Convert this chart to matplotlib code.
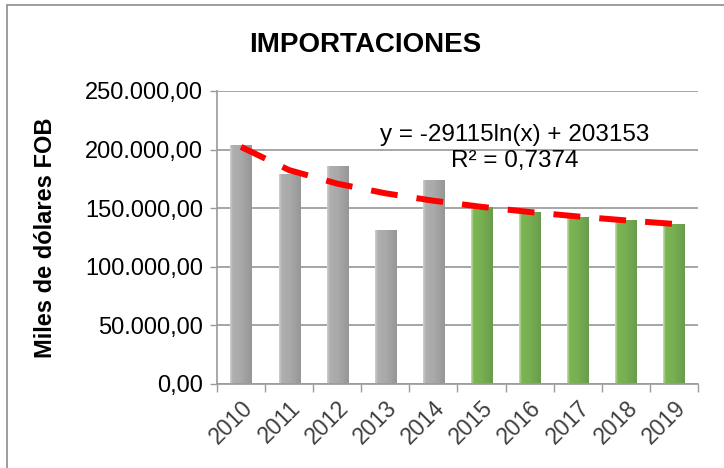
import numpy as np
import matplotlib
matplotlib.use("Agg")
import matplotlib.pyplot as plt
from matplotlib.patches import Rectangle
from matplotlib.colors import LinearSegmentedColormap

plt.rcParams['font.family'] = ['Liberation Sans', 'DejaVu Sans']

# datos
years = ['2010', '2011', '2012', '2013', '2014', '2015', '2016', '2017', '2018', '2019']
importaciones = [204000, 179000, 186000, 131500, 174000, 151000, 147000, 142500, 140000, 136800]
proyectado = [False, False, False, False, False, True, True, True, True, True]
ecuacion = 'y = -29115ln(x) + 203153'
r2_texto = 'R² = 0,7374'
y_ticks = [0, 50000, 100000, 150000, 200000, 250000]

fig = plt.figure(figsize=(7.24, 4.68), dpi=100)
ax = fig.add_axes([0.2997, 0.1795, 0.6643, 0.6261])

x = np.arange(len(years))
ancho = 0.44

# colormaps para simular el degradado de Excel
cmap_gris = LinearSegmentedColormap.from_list(
    'gris', [(0, '#cfcfcf'), (0.12, '#b0b0b0'), (0.5, '#a9a9a9'), (1, '#969696')])
cmap_verde = LinearSegmentedColormap.from_list(
    'verde', [(0, '#c4e0b0'), (0.12, '#7cb556'), (0.5, '#78b050'), (1, '#6b9a4d')])
grad = np.linspace(0, 1, 64).reshape(1, -1)

barras = ax.bar(x, importaciones, width=ancho, color='none', zorder=2)
for b, proy in zip(barras, proyectado):
    x0, y0 = b.get_x(), b.get_y()
    w, h = b.get_width(), b.get_height()
    im = ax.imshow(grad, extent=[x0, x0 + w, y0, y0 + h], aspect='auto',
                   cmap=cmap_verde if proy else cmap_gris, zorder=2)
    im.set_clip_path(b)

# linea de tendencia logaritmica (ajuste de los datos)
xt = x + 1
coef = np.polyfit(np.log(xt), importaciones, 1)
ax.plot(x, coef[0] * np.log(xt) + coef[1], color='#ff0000', lw=4.3,
        dashes=(4.5, 3.2), zorder=3, dash_capstyle='butt')

ax.text(0.62, 0.85, ecuacion, transform=ax.transAxes, ha='center', va='center',
        fontsize=17.5, zorder=4)
ax.text(0.62, 0.762, r2_texto, transform=ax.transAxes, ha='center', va='center',
        fontsize=17.5, zorder=4)

# ejes
ax.set_xlim(-0.5, len(years) - 0.5)
ax.set_ylim(0, 250000)
ax.set_yticks(y_ticks)
ax.set_yticklabels([f'{v:,.2f}'.replace(',', 'X').replace('.', ',').replace('X', '.')
                    for v in y_ticks], fontsize=17, color='black')
ax.yaxis.grid(True, color='#a6a6a6', lw=1.4, zorder=0)
ax.set_axisbelow(True)
ax.tick_params(axis='y', length=5, width=1, color='#9a9a9a', pad=5)

ax.set_xticks(x)
ax.set_xticklabels(years, rotation=45, ha='right', va='top', rotation_mode='anchor',
                   fontsize=16.5, color='#404040')
ax.tick_params(axis='x', which='major', length=0, pad=9)
ax.set_xticks(np.arange(len(years) + 1) - 0.5, minor=True)
ax.tick_params(axis='x', which='minor', length=6, width=1, color='#9a9a9a')

for s in ['top', 'right']:
    ax.spines[s].set_visible(False)
for s in ['left', 'bottom']:
    ax.spines[s].set_color('#9a9a9a')
    ax.spines[s].set_linewidth(1.2)

ax.set_ylabel('Miles de dólares FOB', fontsize=17, fontweight='bold')
ax.yaxis.set_label_coords(-0.333, 0.5)
fig.text(0.505, 0.904, 'IMPORTACIONES', ha='center', va='center',
         fontsize=20, fontweight='bold')

# borde del area del grafico
fig.patches.append(Rectangle((7 / 724, -0.1), 1.2, 1 - 5 / 468 + 0.1,
                             transform=fig.transFigure, fill=False,
                             edgecolor='#8c8c8c', lw=1.2))

plt.savefig('out.png', dpi=100)
plt.close()
